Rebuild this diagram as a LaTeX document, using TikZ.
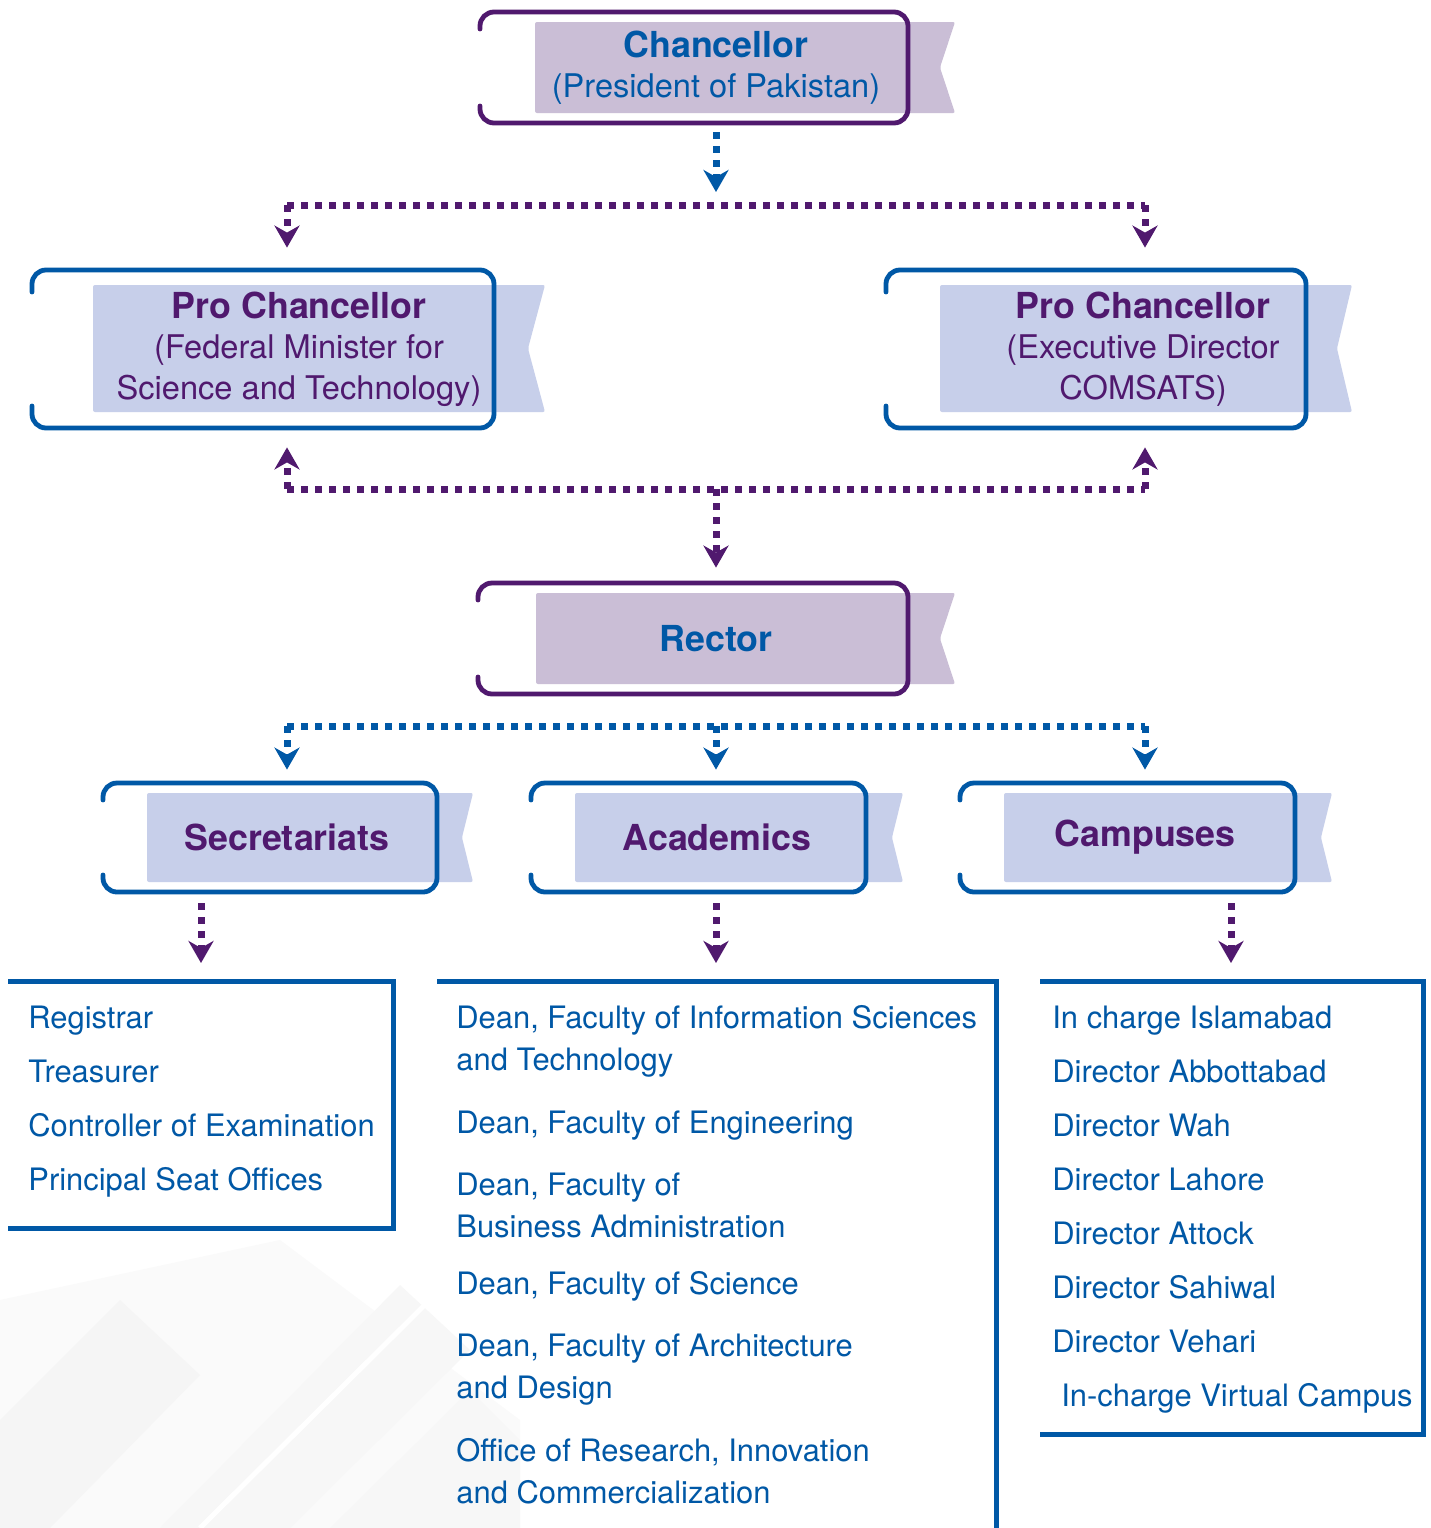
\documentclass[tikz,border=0pt]{standalone}
\usepackage{fontspec}
\setmainfont{TeX Gyre Heros}
\usetikzlibrary{arrows.meta}
\definecolor{purp}{RGB}{80,25,110}
\definecolor{blu}{RGB}{0,88,166}
\definecolor{lav}{RGB}{202,190,214}
\definecolor{peri}{RGB}{199,207,234}
\begin{document}
\begin{tikzpicture}[x=0.5pt,y=-0.5pt,>={Stealth[length=11pt,width=12.5pt,inset=3.5pt]},
  frame/.style={line width=2.4pt,line cap=round,rounded corners=7pt},
  flag/.style={rounded corners=1pt},
  dots/.style={line width=3.5pt,dash pattern=on 3.5pt off 3.5pt},
  bracket/.style={blu,line width=2.5pt},
  title/.style={inner sep=0pt,align=center,font=\fontsize{16.3}{20.2}\selectfont},
  big/.style={font=\fontsize{17.9}{20}\selectfont\bfseries},
  item/.style={anchor=base west,inner sep=0pt,text=blu,font=\fontsize{15.45}{18}\selectfont}]
\fill[white] (0,0) rectangle (1431,1528);
\useasboundingbox (0,0) rectangle (1431,1528);
% faint background
\fill[black!2] (0,1300) -- (280,1240) -- (520,1420) -- (520,1528) -- (0,1528) -- cycle;
\fill[black!4] (0,1420) -- (120,1300) -- (200,1375) -- (50,1528) -- (0,1528) -- cycle;
\fill[black!3] (160,1528) -- (400,1285) -- (470,1350) -- (290,1528) -- cycle;
\fill[black!3] (330,1528) -- (470,1390) -- (520,1440) -- (520,1528) -- cycle;
\draw[white,line width=2.5pt] (200,1528) -- (465,1265);
% ribbons
\fill[lav,flag] (535,22) -- (955,22) -- (940,67.5) -- (955,113) -- (535,113) -- cycle;
\fill[peri,flag] (93,285) -- (545,285) -- (528,348.5) -- (545,412) -- (93,412) -- cycle;
\fill[peri,flag] (940,285) -- (1352,285) -- (1337,348.5) -- (1352,412) -- (940,412) -- cycle;
\fill[lav,flag] (536,593) -- (955,593) -- (940,638.5) -- (955,684) -- (536,684) -- cycle;
\fill[peri,flag] (147,793) -- (473,793) -- (462,837.5) -- (473,882) -- (147,882) -- cycle;
\fill[peri,flag] (575,793) -- (903,793) -- (892,837.5) -- (903,882) -- (575,882) -- cycle;
\fill[peri,flag] (1004,793) -- (1332,793) -- (1321,837.5) -- (1332,882) -- (1004,882) -- cycle;
% frames
\draw[purp,frame] (480,29) -- (480,12) -- (908,12) -- (908,123) -- (480,123) -- (480,106);
\draw[blu,frame] (32,292) -- (32,270) -- (494,270) -- (494,428) -- (32,428) -- (32,406);
\draw[blu,frame] (886,292) -- (886,270) -- (1306,270) -- (1306,428) -- (886,428) -- (886,406);
\draw[purp,frame] (478,600) -- (478,583) -- (908,583) -- (908,694) -- (478,694) -- (478,677);
\draw[blu,frame] (103,800) -- (103,783) -- (437,783) -- (437,892) -- (103,892) -- (103,875);
\draw[blu,frame] (531,800) -- (531,783) -- (866,783) -- (866,892) -- (531,892) -- (531,875);
\draw[blu,frame] (960,800) -- (960,783) -- (1295,783) -- (1295,892) -- (960,892) -- (960,875);
% titles
\node[title,text=blu,minimum height=55.5pt] (chan) at (716,67.5) {{\fontsize{17.9}{20}\selectfont\bfseries Chancellor}\\(President of Pakistan)};
\node[title,text=purp,minimum height=79pt] (pcl) at (299,349) {{\fontsize{17.9}{20}\selectfont\bfseries Pro Chancellor}\\(Federal Minister for\\Science and Technology)};
\node[title,text=purp,minimum height=79pt] (pcr) at (1143,349) {{\fontsize{17.9}{20}\selectfont\bfseries Pro Chancellor}\\(Executive Director\\COMSATS)};
\node[title,big,text=blu,minimum height=55.5pt] (rect) at (716,638.5) {Rector};
\node[title,big,text=purp,minimum height=54.5pt] (sec) at (287,837.5) {Secretariats};
\node[title,big,text=purp,minimum height=54.5pt] (acad) at (717,837.5) {Academics};
\node[title,big,text=purp,minimum height=54.5pt] (camp) at (1145,837.5) {Campuses};
% junctions
\coordinate (b1l) at (287,205); \coordinate (b1m) at (716,205); \coordinate (b1r) at (1145,205);
\coordinate (b2l) at (287,489); \coordinate (b2m) at (716,489); \coordinate (b2r) at (1145,489);
\coordinate (b3l) at (287,726); \coordinate (b3m) at (716,726); \coordinate (b3r) at (1145,726);
\coordinate (seclist) at (201,981); \coordinate (acadlist) at (716,981); \coordinate (camplist) at (1231,981);
% connectors
\draw[blu,dots,->,shorten <=4.5pt,shorten >=6.5pt] (chan) -- (b1m);
\draw[purp,dots] (b1l) -- (b1r);
\draw[purp,dots,->,shorten >=11pt] (b1l) -- (b1l |- pcl.north);
\draw[purp,dots,->,shorten >=11pt] (b1r) -- (b1r |- pcr.north);
\draw[purp,dots] (b2l) -- (b2r);
\draw[purp,dots,->,shorten >=9.5pt] (b2l) -- (b2l |- pcl.south);
\draw[purp,dots,->,shorten >=9.5pt] (b2r) -- (b2r |- pcr.south);
\draw[purp,dots,->,shorten >=7.5pt] (b2m) -- (rect);
\draw[blu,dots] (b3l) -- (b3r);
\draw[blu,dots,->,shorten >=6.5pt] (b3l) -- (sec);
\draw[blu,dots,->,shorten >=6.5pt] (b3m) -- (b3m |- acad.north);
\draw[blu,dots,->,shorten >=6.5pt] (b3r) -- (camp);
\draw[purp,dots,->,shorten <=5.5pt,shorten >=9pt] (seclist |- sec.south) -- (seclist);
\draw[purp,dots,->,shorten <=5.5pt,shorten >=9pt] (acadlist |- acad.south) -- (acadlist);
\draw[purp,dots,->,shorten <=5.5pt,shorten >=9pt] (camplist |- camp.south) -- (camplist);
% lists
\draw[bracket] (8,981) -- (393,981) -- (393,1228) -- (8,1228);
\draw[bracket] (437,981) -- (996,981) -- (996,1532);
\draw[bracket] (1040,981) -- (1423,981) -- (1423,1434) -- (1040,1434);
\foreach \y/\t [count=\i] in {1028/Registrar,1082/Treasurer,1136/Controller of Examination,1190/Principal Seat Offices}
  \node[item] (sec\i) at (28,\y) {\t};
\foreach \y/\t [count=\i] in {1028/{Dean, Faculty of Information Sciences},1070/and Technology,
  1133/{Dean, Faculty of Engineering},1195/{Dean, Faculty of},1237/Business Administration,
  1294/{Dean, Faculty of Science},1356/{Dean, Faculty of Architecture},1398/and Design,
  1461/{Office of Research, Innovation},1503/and Commercialization}
  \node[item] (acad\i) at (456,\y) {\t};
\foreach \y/\t [count=\i] in {1028/In charge Islamabad,1082/Director Abbottabad,1136/Director Wah,
  1190/Director Lahore,1244/Director Attock,1298/Director Sahiwal,1352/Director Vehari}
  \node[item] (camp\i) at (1052,\y) {\t};
\node[item] (camp8) at (1061,1406) {In-charge Virtual Campus};
\end{tikzpicture}
\end{document}
